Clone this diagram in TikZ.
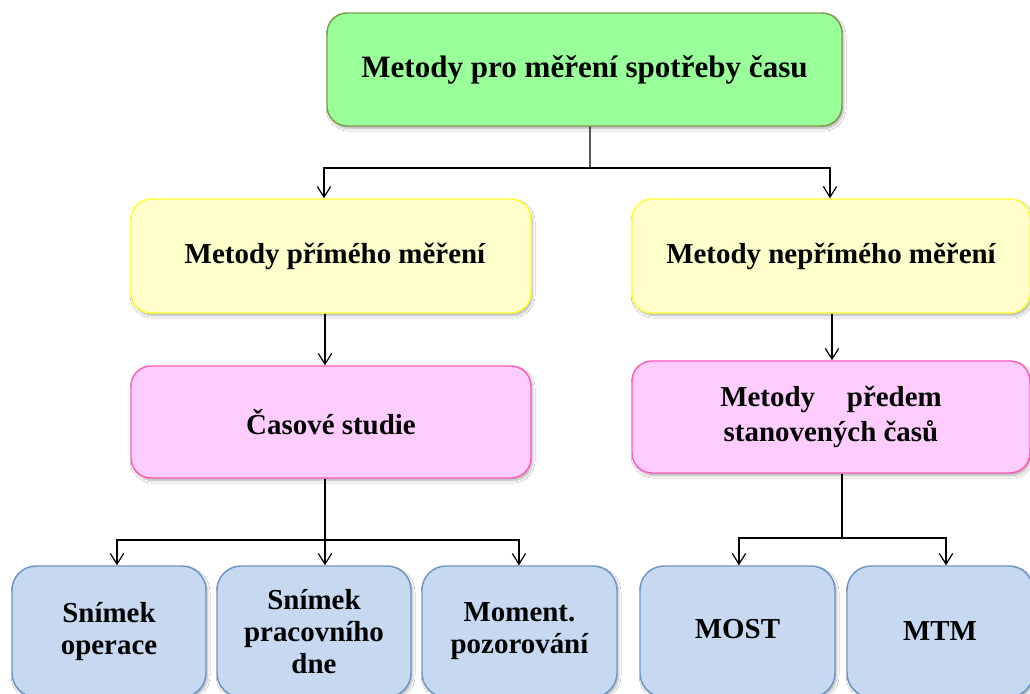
\documentclass[tikz,border=0pt]{standalone}
\usepackage{fontspec}
\setmainfont{Liberation Serif}
\usetikzlibrary{arrows.meta,shadows.blur}

\definecolor{greenfill}{HTML}{99FF99}
\definecolor{greenline}{HTML}{7E9B4C}
\definecolor{yellowfill}{HTML}{FFFFCC}
\definecolor{yellowline}{HTML}{FFFF33}
\definecolor{pinkfill}{HTML}{FFCCFF}
\definecolor{pinkline}{HTML}{FF5CB4}
\definecolor{bluefill}{HTML}{C6D9F1}
\definecolor{blueline}{HTML}{6D94C9}

\tikzset{
  box/.style={rectangle, rounded corners=15pt, line width=1.1pt, align=center,
    font=\bfseries\fontsize{21.7}{24}\selectfont, inner sep=0pt,
    blur shadow={shadow xshift=1.2pt, shadow yshift=-2pt, shadow opacity=30, shadow blur steps=6}},
  topbox/.style={box, fill=greenfill, draw=greenline, minimum width=386.25pt, minimum height=84.75pt,
    font=\bfseries\fontsize{23.3}{26}\selectfont},
  midbox/.style={box, fill=yellowfill, draw=yellowline, minimum height=85.5pt},
  subbox/.style={box, fill=pinkfill, draw=pinkline, minimum height=84pt},
  leafbox/.style={box, fill=bluefill, draw=blueline, rounded corners=18pt, minimum height=98.25pt},
  link/.style={line width=0.9pt, black},
  arr/.style={link, -{Straight Barb[length=8pt, width=10pt, line width=0.9pt]}},
}

\begin{document}
\begin{tikzpicture}[x=0.75pt, y=-0.75pt]
  \clip (0,0) rectangle (1030,693);
  \fill[white] (0,0) rectangle (1030,693);

  % root
  \node[topbox] (root) at (584.5,69.5) {\raisebox{-3.5pt}{Metody pro měření spotřeby času}};

  % second level
  \node[midbox, minimum width=300pt]   (direct)   at (331,256) {\raisebox{-2.5pt}{\hspace{6pt}Metody přímého měření}};
  \node[midbox, minimum width=298.5pt] (indirect) at (831,256) {\raisebox{-2.5pt}{Metody nepřímého měření}};

  % third level
  \node[subbox, minimum width=300pt]   (studies)  at (331,422) {Časové studie};
  \node[subbox, minimum width=298.5pt] (preset)   at (831,417)
    {Metody\hspace{1.1em}předem\\[2pt]stanovených časů};

  % leaves
  \node[leafbox, minimum width=145.5pt] (op)   at (109,631.5)   {Snímek\\operace};
  \node[leafbox, minimum width=145.5pt] (day)  at (314,631.5)   {Snímek\\pracovního\\dne};
  \node[leafbox, minimum width=146.25pt] (mom) at (519.5,631.5) {Moment.\\pozorování};
  \node[leafbox, minimum width=146.25pt] (most) at (737.5,631.5) {\raisebox{4pt}{MOST}};
  \node[leafbox, minimum width=139.5pt] (mtm)  at (940,631.5)   {MTM};

  % bus levels
  \coordinate (busA) at (590,168);
  \coordinate (busB) at (325,540);
  \coordinate (busC) at (842,538);

  % root -> second level
  \draw[link] ([xshift=4.1pt]root.south) -- (busA);
  \draw[arr] (busA) -| ([xshift=-5.25pt]direct.north);
  \draw[arr] (busA) -| ([xshift=-0.75pt]indirect.north);

  % second -> third level
  \draw[arr] ([xshift=-4.5pt]direct.south) -- ([xshift=-4.5pt]studies.north);
  \draw[arr] ([xshift=0.75pt]indirect.south) -- ([xshift=0.75pt]preset.north);

  % third level -> leaves
  \draw[link] ([xshift=-4.5pt]studies.south) -- (busB);
  \draw[arr] (busB) -| ([xshift=6pt]op.north);
  \draw[arr] (busB) -| ([xshift=8.25pt]day.north);
  \draw[arr] (busB) -| ([xshift=-0.4pt]mom.north);

  \draw[link] ([xshift=8.25pt]preset.south) -- (busC);
  \draw[arr] (busC) -| ([xshift=1.1pt]most.north);
  \draw[arr] (busC) -| ([xshift=4.5pt]mtm.north);
\end{tikzpicture}
\end{document}
